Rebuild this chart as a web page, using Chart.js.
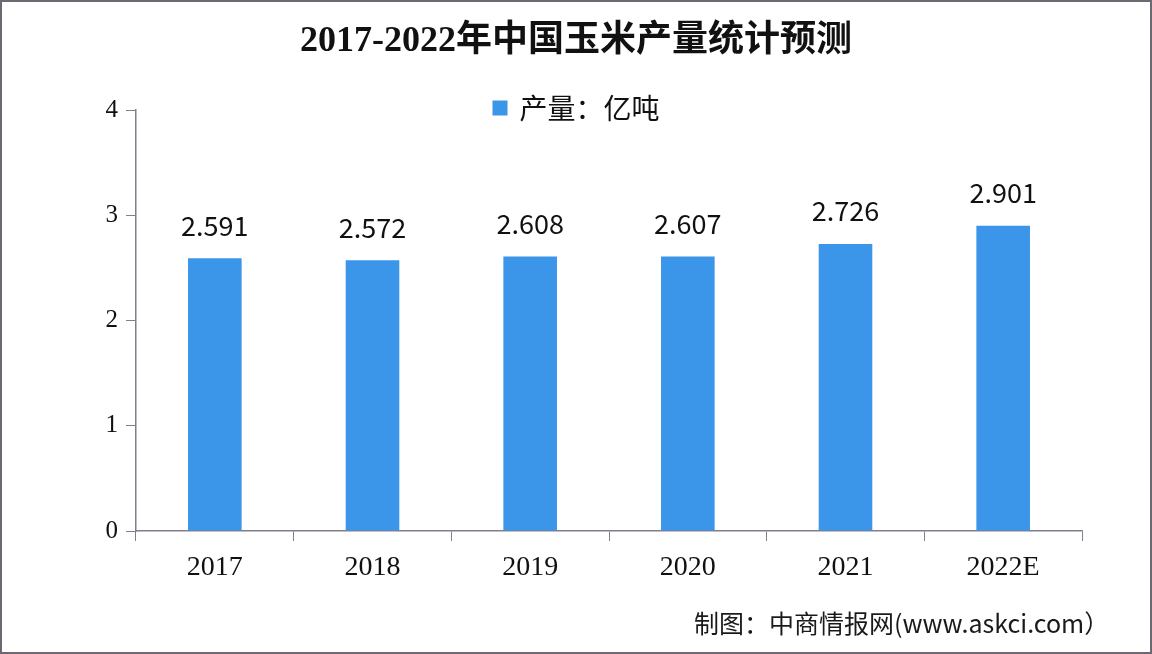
<!DOCTYPE html>
<html>
<head>
<meta charset="utf-8">
<script src="https://cdn.jsdelivr.net/npm/chart.js@4"></script>
<style>
    html, body { margin: 0; padding: 0; background: #fff; }
    #wrap { position: relative; width: 1152px; height: 654px; }
    #source {
        position: absolute; left: 694px; top: 604px;
        font-family: 'Noto Sans CJK SC', sans-serif; font-size: 25px; color: #1a1a1a;
        white-space: nowrap;
    }
</style>
</head>
<body>
<div id="wrap">
    <canvas id="chart" width="1152" height="654"></canvas>
    <div id="source">制图：中商情报网(www.askci.com）</div>
</div>
<script>
// 数据
const years = ['2017', '2018', '2019', '2020', '2021', '2022E'];
const output = [2.591, 2.572, 2.608, 2.607, 2.726, 2.901];
const yTicks = [0, 1, 2, 3, 4];
const seriesLabel = '产量：亿吨';
const chartTitle = '2017-2022年中国玉米产量统计预测';

const barColor = '#3b95e8';
const axisColor = '#857d8c';

// 柱子上方数值
const valueLabels = {
    id: 'valueLabels',
    afterDatasetsDraw(chart) {
        const ctx = chart.ctx;
        const meta = chart.getDatasetMeta(0);
        ctx.save();
        ctx.font = "27px 'Noto Sans CJK SC', sans-serif";
        ctx.fillStyle = '#111';
        ctx.textAlign = 'center';
        ctx.textBaseline = 'middle';
        meta.data.forEach((bar, i) => {
            ctx.fillText(output[i].toFixed(3), bar.x, bar.y - 33);
        });
        ctx.restore();
    }
};

// 标题与图例（图例与绘图区重叠，手动绘制）
const header = {
    id: 'header',
    afterDraw(chart) {
        const ctx = chart.ctx;
        ctx.save();
        ctx.fillStyle = '#111';
        ctx.textAlign = 'center';
        ctx.textBaseline = 'middle';
        ctx.font = "bold 36px 'Liberation Serif', 'Noto Sans CJK SC', serif";
        ctx.fillText(chartTitle, 576, 42);

        ctx.textAlign = 'left';
        ctx.font = "28px 'Noto Sans CJK SC', sans-serif";
        const tw = ctx.measureText(seriesLabel).width;
        const box = 15, gap = 12;
        const x0 = 576 - (box + gap + tw) / 2;
        const cy = 108;
        ctx.fillStyle = barColor;
        ctx.fillRect(x0, cy - box / 2, box, box);
        ctx.fillStyle = '#111';
        ctx.fillText(seriesLabel, x0 + box + gap, cy);
        ctx.restore();
    }
};

// 外框
const frame = {
    id: 'frame',
    beforeDraw(chart) {
        const ctx = chart.ctx;
        ctx.save();
        ctx.fillStyle = '#fff';
        ctx.fillRect(0, 0, chart.width, chart.height);
        ctx.restore();
    },
    afterDraw(chart) {
        const ctx = chart.ctx;
        ctx.save();
        ctx.strokeStyle = '#6e6873';
        ctx.lineWidth = 2;
        ctx.strokeRect(1, 1, chart.width - 2, chart.height - 2);
        ctx.restore();
    }
};

new Chart(document.getElementById('chart'), {
    type: 'bar',
    data: {
        labels: years,
        datasets: [{
            label: seriesLabel,
            data: output,
            backgroundColor: barColor,
            borderWidth: 0,
            barPercentage: 0.34,
            categoryPercentage: 1
        }]
    },
    options: {
        responsive: false,
        animation: false,
        layout: { padding: { left: 0, right: 70, top: 110, bottom: 0 } },
        plugins: {
            legend: { display: false },
            tooltip: { enabled: false },
            title: { display: false }
        },
        scales: {
            x: {
                offset: true,
                grid: {
                    offset: true,
                    drawOnChartArea: false,
                    drawTicks: true,
                    tickLength: 10,
                    color: axisColor
                },
                border: { color: axisColor, width: 1.5 },
                ticks: {
                    color: '#111',
                    padding: 10,
                    font: { family: "'Liberation Serif', serif", size: 28 }
                },
                afterFit(scale) { scale.height = 123; }
            },
            y: {
                min: 0,
                max: 4,
                afterBuildTicks(scale) { scale.ticks = yTicks.map(v => ({ value: v })); },
                grid: {
                    drawOnChartArea: false,
                    drawTicks: true,
                    tickLength: 10,
                    color: axisColor
                },
                border: { color: axisColor, width: 1.5 },
                ticks: {
                    color: '#111',
                    padding: 8,
                    font: { family: "'Liberation Serif', serif", size: 25 }
                },
                afterFit(scale) { scale.width = 136; }
            }
        }
    },
    plugins: [frame, valueLabels, header]
});
</script>
</body>
</html>
